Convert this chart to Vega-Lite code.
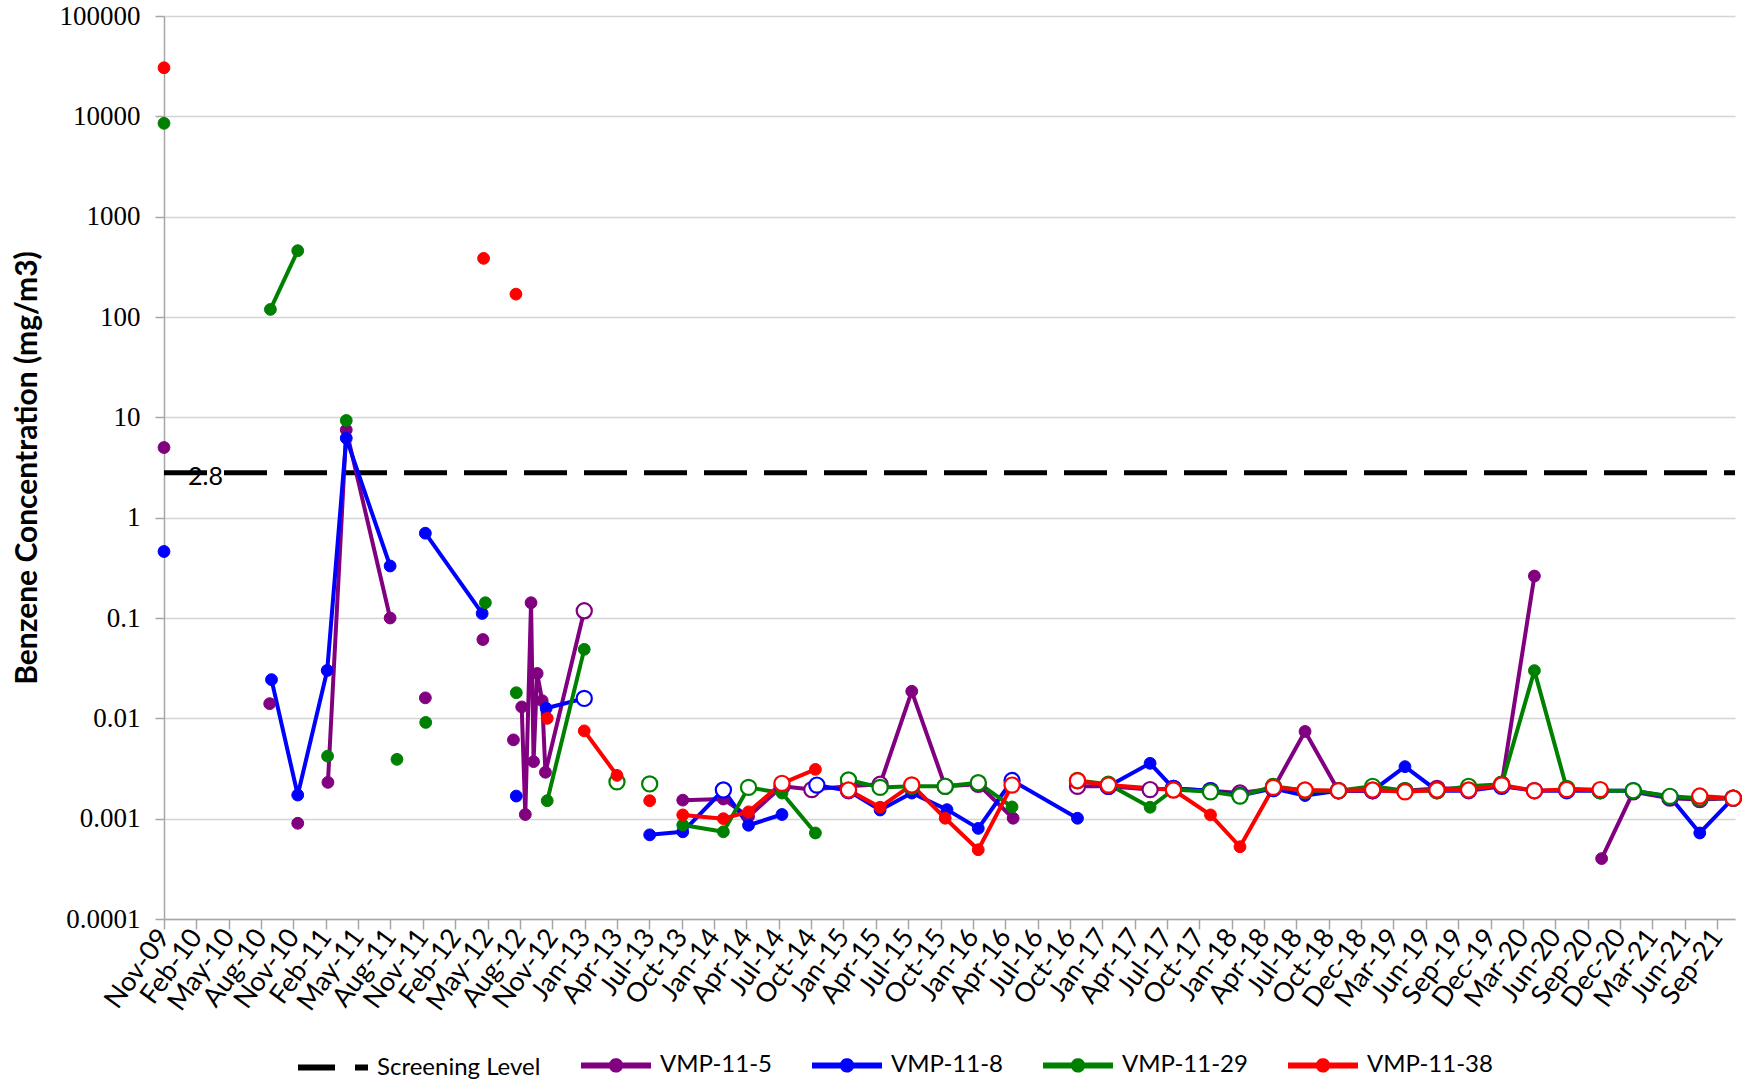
{
  "$schema": "https://vega.github.io/schema/vega-lite/v6.json",
  "width": 1571,
  "height": 903,
  "autosize": "none",
  "padding": {"left": 164, "top": 16, "right": 19, "bottom": 163},
  "background": "white",
  "config": {"view": {"stroke": null}},
  "datasets": {
    "sl": [
      {"series": "Screening Level", "date": "2009-11-17", "value": 2.8},
      {"series": "Screening Level", "date": "2021-11-04", "value": 2.8}
    ],
    "sllabel": [{"date": "2009-11-17", "value": 2.8, "label": "2.8"}],
    "obs": [
      {"series": "VMP-11-5", "seg": "pa", "date": "2009-11-17", "value": 5.0, "nd": false},
      {"series": "VMP-11-5", "seg": "pb", "date": "2010-09-07", "value": 0.014, "nd": false},
      {"series": "VMP-11-5", "seg": "pc", "date": "2010-11-24", "value": 0.0009, "nd": false},
      {"series": "VMP-11-5", "seg": "pd", "date": "2011-02-16", "value": 0.0023, "nd": false},
      {"series": "VMP-11-5", "seg": "pd", "date": "2011-04-08", "value": 7.5, "nd": false},
      {"series": "VMP-11-5", "seg": "pd", "date": "2011-08-08", "value": 0.10, "nd": false},
      {"series": "VMP-11-5", "seg": "pe", "date": "2011-11-14", "value": 0.016, "nd": false},
      {"series": "VMP-11-5", "seg": "pf", "date": "2012-04-22", "value": 0.061, "nd": false},
      {"series": "VMP-11-5", "seg": "pg", "date": "2012-07-16", "value": 0.0061, "nd": false},
      {"series": "VMP-11-5", "seg": "ph", "date": "2012-08-08", "value": 0.013, "nd": false},
      {"series": "VMP-11-5", "seg": "ph", "date": "2012-08-18", "value": 0.0011, "nd": false},
      {"series": "VMP-11-5", "seg": "ph", "date": "2012-09-03", "value": 0.142, "nd": false},
      {"series": "VMP-11-5", "seg": "ph", "date": "2012-09-10", "value": 0.0037, "nd": false},
      {"series": "VMP-11-5", "seg": "ph", "date": "2012-09-20", "value": 0.028, "nd": false},
      {"series": "VMP-11-5", "seg": "ph", "date": "2012-10-04", "value": 0.015, "nd": false},
      {"series": "VMP-11-5", "seg": "ph", "date": "2012-10-13", "value": 0.0029, "nd": false},
      {"series": "VMP-11-5", "seg": "ph", "date": "2013-01-29", "value": 0.118, "nd": true},
      {"series": "VMP-11-5", "seg": "pi", "date": "2013-10-30", "value": 0.00153, "nd": false},
      {"series": "VMP-11-5", "seg": "pi", "date": "2014-02-20", "value": 0.00157, "nd": false},
      {"series": "VMP-11-5", "seg": "pi", "date": "2014-05-01", "value": 0.00105, "nd": false},
      {"series": "VMP-11-5", "seg": "pi", "date": "2014-08-02", "value": 0.0021, "nd": true},
      {"series": "VMP-11-5", "seg": "pi", "date": "2014-10-24", "value": 0.00195, "nd": true},
      {"series": "VMP-11-5", "seg": "pi", "date": "2015-02-03", "value": 0.0021, "nd": true},
      {"series": "VMP-11-5", "seg": "pi", "date": "2015-05-02", "value": 0.0022, "nd": true},
      {"series": "VMP-11-5", "seg": "pi", "date": "2015-07-29", "value": 0.0186, "nd": false},
      {"series": "VMP-11-5", "seg": "pi", "date": "2015-10-30", "value": 0.0021, "nd": true},
      {"series": "VMP-11-5", "seg": "pi", "date": "2016-01-30", "value": 0.0022, "nd": true},
      {"series": "VMP-11-5", "seg": "pi", "date": "2016-05-06", "value": 0.00101, "nd": false},
      {"series": "VMP-11-5", "seg": "pj", "date": "2016-11-01", "value": 0.0021, "nd": true},
      {"series": "VMP-11-5", "seg": "pj", "date": "2017-01-26", "value": 0.0021, "nd": true},
      {"series": "VMP-11-5", "seg": "pj", "date": "2017-05-22", "value": 0.00195, "nd": true},
      {"series": "VMP-11-5", "seg": "pj", "date": "2017-07-26", "value": 0.002, "nd": true},
      {"series": "VMP-11-5", "seg": "pj", "date": "2017-11-06", "value": 0.0019, "nd": true},
      {"series": "VMP-11-5", "seg": "pj", "date": "2018-01-27", "value": 0.0018, "nd": true},
      {"series": "VMP-11-5", "seg": "pj", "date": "2018-04-30", "value": 0.002, "nd": true},
      {"series": "VMP-11-5", "seg": "pj", "date": "2018-07-27", "value": 0.0074, "nd": false},
      {"series": "VMP-11-5", "seg": "pj", "date": "2018-10-28", "value": 0.0019, "nd": true},
      {"series": "VMP-11-5", "seg": "pj", "date": "2019-01-31", "value": 0.0019, "nd": true},
      {"series": "VMP-11-5", "seg": "pj", "date": "2019-05-01", "value": 0.0019, "nd": true},
      {"series": "VMP-11-5", "seg": "pj", "date": "2019-07-29", "value": 0.002, "nd": true},
      {"series": "VMP-11-5", "seg": "pj", "date": "2019-10-25", "value": 0.002, "nd": true},
      {"series": "VMP-11-5", "seg": "pj", "date": "2020-01-25", "value": 0.0022, "nd": true},
      {"series": "VMP-11-5", "seg": "pj", "date": "2020-04-25", "value": 0.262, "nd": false},
      {"series": "VMP-11-5", "seg": "pk", "date": "2020-10-29", "value": 0.0004, "nd": false},
      {"series": "VMP-11-5", "seg": "pk", "date": "2021-01-25", "value": 0.00185, "nd": true},
      {"series": "VMP-11-5", "seg": "pk", "date": "2021-05-07", "value": 0.0016, "nd": true},
      {"series": "VMP-11-5", "seg": "pk", "date": "2021-07-29", "value": 0.00155, "nd": true},
      {"series": "VMP-11-5", "seg": "pk", "date": "2021-10-30", "value": 0.0016, "nd": true},

      {"series": "VMP-11-8", "seg": "ba", "date": "2009-11-17", "value": 0.46, "nd": false},
      {"series": "VMP-11-8", "seg": "bb", "date": "2010-09-12", "value": 0.0243, "nd": false},
      {"series": "VMP-11-8", "seg": "bb", "date": "2010-11-24", "value": 0.00172, "nd": false},
      {"series": "VMP-11-8", "seg": "bb", "date": "2011-02-14", "value": 0.030, "nd": false},
      {"series": "VMP-11-8", "seg": "bb", "date": "2011-04-08", "value": 6.2, "nd": false},
      {"series": "VMP-11-8", "seg": "bb", "date": "2011-08-08", "value": 0.33, "nd": false},
      {"series": "VMP-11-8", "seg": "bc", "date": "2011-11-14", "value": 0.70, "nd": false},
      {"series": "VMP-11-8", "seg": "bc", "date": "2012-04-20", "value": 0.111, "nd": false},
      {"series": "VMP-11-8", "seg": "bd", "date": "2012-07-24", "value": 0.00168, "nd": false},
      {"series": "VMP-11-8", "seg": "be", "date": "2012-10-15", "value": 0.0126, "nd": false},
      {"series": "VMP-11-8", "seg": "be", "date": "2013-01-29", "value": 0.0158, "nd": true},
      {"series": "VMP-11-8", "seg": "bf", "date": "2013-07-30", "value": 0.00069, "nd": false},
      {"series": "VMP-11-8", "seg": "bf", "date": "2013-10-30", "value": 0.00074, "nd": false},
      {"series": "VMP-11-8", "seg": "bf", "date": "2014-02-20", "value": 0.00193, "nd": true},
      {"series": "VMP-11-8", "seg": "bf", "date": "2014-05-01", "value": 0.00086, "nd": false},
      {"series": "VMP-11-8", "seg": "bf", "date": "2014-08-02", "value": 0.0011, "nd": false},
      {"series": "VMP-11-8", "seg": "bg", "date": "2014-11-07", "value": 0.00216, "nd": true},
      {"series": "VMP-11-8", "seg": "bg", "date": "2015-02-03", "value": 0.0019, "nd": true},
      {"series": "VMP-11-8", "seg": "bg", "date": "2015-05-02", "value": 0.00122, "nd": false},
      {"series": "VMP-11-8", "seg": "bg", "date": "2015-07-29", "value": 0.0018, "nd": false},
      {"series": "VMP-11-8", "seg": "bg", "date": "2015-11-04", "value": 0.00123, "nd": false},
      {"series": "VMP-11-8", "seg": "bg", "date": "2016-01-30", "value": 0.0008, "nd": false},
      {"series": "VMP-11-8", "seg": "bg", "date": "2016-05-03", "value": 0.0024, "nd": true},
      {"series": "VMP-11-8", "seg": "bg", "date": "2016-11-01", "value": 0.00101, "nd": false},
      {"series": "VMP-11-8", "seg": "bh", "date": "2017-01-26", "value": 0.0021, "nd": true},
      {"series": "VMP-11-8", "seg": "bh", "date": "2017-05-22", "value": 0.00356, "nd": false},
      {"series": "VMP-11-8", "seg": "bh", "date": "2017-07-26", "value": 0.002, "nd": true},
      {"series": "VMP-11-8", "seg": "bh", "date": "2017-11-06", "value": 0.0019, "nd": true},
      {"series": "VMP-11-8", "seg": "bh", "date": "2018-01-27", "value": 0.0017, "nd": true},
      {"series": "VMP-11-8", "seg": "bh", "date": "2018-04-30", "value": 0.002, "nd": true},
      {"series": "VMP-11-8", "seg": "bh", "date": "2018-07-27", "value": 0.0017, "nd": false},
      {"series": "VMP-11-8", "seg": "bh", "date": "2018-10-28", "value": 0.0019, "nd": true},
      {"series": "VMP-11-8", "seg": "bh", "date": "2019-01-31", "value": 0.0019, "nd": true},
      {"series": "VMP-11-8", "seg": "bh", "date": "2019-05-01", "value": 0.0033, "nd": false},
      {"series": "VMP-11-8", "seg": "bh", "date": "2019-07-29", "value": 0.0019, "nd": true},
      {"series": "VMP-11-8", "seg": "bh", "date": "2019-10-25", "value": 0.0019, "nd": true},
      {"series": "VMP-11-8", "seg": "bh", "date": "2020-01-25", "value": 0.0021, "nd": true},
      {"series": "VMP-11-8", "seg": "bh", "date": "2020-04-25", "value": 0.0019, "nd": true},
      {"series": "VMP-11-8", "seg": "bh", "date": "2020-07-24", "value": 0.0019, "nd": true},
      {"series": "VMP-11-8", "seg": "bh", "date": "2020-10-25", "value": 0.0019, "nd": true},
      {"series": "VMP-11-8", "seg": "bh", "date": "2021-01-25", "value": 0.0019, "nd": true},
      {"series": "VMP-11-8", "seg": "bh", "date": "2021-05-07", "value": 0.00165, "nd": true},
      {"series": "VMP-11-8", "seg": "bh", "date": "2021-07-29", "value": 0.00072, "nd": false},
      {"series": "VMP-11-8", "seg": "bh", "date": "2021-10-30", "value": 0.0016, "nd": true},

      {"series": "VMP-11-29", "seg": "ga", "date": "2009-11-17", "value": 8520, "nd": false},
      {"series": "VMP-11-29", "seg": "gb", "date": "2010-09-09", "value": 119, "nd": false},
      {"series": "VMP-11-29", "seg": "gb", "date": "2010-11-24", "value": 458, "nd": false},
      {"series": "VMP-11-29", "seg": "gc", "date": "2011-02-15", "value": 0.0042, "nd": false},
      {"series": "VMP-11-29", "seg": "gd", "date": "2011-04-08", "value": 9.3, "nd": false},
      {"series": "VMP-11-29", "seg": "ge", "date": "2011-08-27", "value": 0.0039, "nd": false},
      {"series": "VMP-11-29", "seg": "gf", "date": "2011-11-15", "value": 0.0091, "nd": false},
      {"series": "VMP-11-29", "seg": "gg", "date": "2012-04-29", "value": 0.142, "nd": false},
      {"series": "VMP-11-29", "seg": "gh", "date": "2012-07-24", "value": 0.018, "nd": false},
      {"series": "VMP-11-29", "seg": "gi", "date": "2012-10-18", "value": 0.00151, "nd": false},
      {"series": "VMP-11-29", "seg": "gi", "date": "2013-01-29", "value": 0.0487, "nd": false},
      {"series": "VMP-11-29", "seg": "gj", "date": "2013-04-30", "value": 0.00233, "nd": true},
      {"series": "VMP-11-29", "seg": "gk", "date": "2013-07-30", "value": 0.00222, "nd": true},
      {"series": "VMP-11-29", "seg": "gl", "date": "2013-10-30", "value": 0.000865, "nd": false},
      {"series": "VMP-11-29", "seg": "gl", "date": "2014-02-20", "value": 0.00074, "nd": false},
      {"series": "VMP-11-29", "seg": "gl", "date": "2014-05-01", "value": 0.00205, "nd": true},
      {"series": "VMP-11-29", "seg": "gl", "date": "2014-08-02", "value": 0.0018, "nd": false},
      {"series": "VMP-11-29", "seg": "gl", "date": "2014-11-03", "value": 0.00072, "nd": false},
      {"series": "VMP-11-29", "seg": "gm", "date": "2015-02-03", "value": 0.00243, "nd": true},
      {"series": "VMP-11-29", "seg": "gm", "date": "2015-05-02", "value": 0.00205, "nd": true},
      {"series": "VMP-11-29", "seg": "gm", "date": "2015-07-29", "value": 0.0021, "nd": true},
      {"series": "VMP-11-29", "seg": "gm", "date": "2015-10-30", "value": 0.0021, "nd": true},
      {"series": "VMP-11-29", "seg": "gm", "date": "2016-01-30", "value": 0.00228, "nd": true},
      {"series": "VMP-11-29", "seg": "gm", "date": "2016-05-03", "value": 0.00131, "nd": false},
      {"series": "VMP-11-29", "seg": "gn", "date": "2016-11-01", "value": 0.0024, "nd": true},
      {"series": "VMP-11-29", "seg": "gn", "date": "2017-01-26", "value": 0.0022, "nd": true},
      {"series": "VMP-11-29", "seg": "gn", "date": "2017-05-22", "value": 0.0013, "nd": false},
      {"series": "VMP-11-29", "seg": "gn", "date": "2017-07-26", "value": 0.00195, "nd": true},
      {"series": "VMP-11-29", "seg": "gn", "date": "2017-11-06", "value": 0.00185, "nd": true},
      {"series": "VMP-11-29", "seg": "gn", "date": "2018-01-27", "value": 0.00168, "nd": true},
      {"series": "VMP-11-29", "seg": "gn", "date": "2018-04-30", "value": 0.0021, "nd": true},
      {"series": "VMP-11-29", "seg": "gn", "date": "2018-07-27", "value": 0.0019, "nd": true},
      {"series": "VMP-11-29", "seg": "gn", "date": "2018-10-28", "value": 0.0019, "nd": true},
      {"series": "VMP-11-29", "seg": "gn", "date": "2019-01-31", "value": 0.0021, "nd": true},
      {"series": "VMP-11-29", "seg": "gn", "date": "2019-05-01", "value": 0.0019, "nd": true},
      {"series": "VMP-11-29", "seg": "gn", "date": "2019-07-29", "value": 0.0019, "nd": true},
      {"series": "VMP-11-29", "seg": "gn", "date": "2019-10-25", "value": 0.0021, "nd": true},
      {"series": "VMP-11-29", "seg": "gn", "date": "2020-01-25", "value": 0.0022, "nd": true},
      {"series": "VMP-11-29", "seg": "gn", "date": "2020-04-25", "value": 0.0299, "nd": false},
      {"series": "VMP-11-29", "seg": "gn", "date": "2020-07-24", "value": 0.002, "nd": true},
      {"series": "VMP-11-29", "seg": "gn", "date": "2020-10-25", "value": 0.0019, "nd": true},
      {"series": "VMP-11-29", "seg": "gn", "date": "2021-01-25", "value": 0.0019, "nd": true},
      {"series": "VMP-11-29", "seg": "gn", "date": "2021-05-07", "value": 0.00167, "nd": true},
      {"series": "VMP-11-29", "seg": "gn", "date": "2021-07-29", "value": 0.0016, "nd": true},
      {"series": "VMP-11-29", "seg": "gn", "date": "2021-10-30", "value": 0.0016, "nd": true},

      {"series": "VMP-11-38", "seg": "ra", "date": "2009-11-17", "value": 30500, "nd": false},
      {"series": "VMP-11-38", "seg": "rb", "date": "2012-04-24", "value": 384, "nd": false},
      {"series": "VMP-11-38", "seg": "rc", "date": "2012-07-23", "value": 169, "nd": false},
      {"series": "VMP-11-38", "seg": "rd", "date": "2012-10-18", "value": 0.0100, "nd": false},
      {"series": "VMP-11-38", "seg": "re", "date": "2013-01-29", "value": 0.0075, "nd": false},
      {"series": "VMP-11-38", "seg": "re", "date": "2013-04-30", "value": 0.0027, "nd": false},
      {"series": "VMP-11-38", "seg": "rf", "date": "2013-07-30", "value": 0.00151, "nd": false},
      {"series": "VMP-11-38", "seg": "rg", "date": "2013-10-30", "value": 0.00109, "nd": false},
      {"series": "VMP-11-38", "seg": "rg", "date": "2014-02-20", "value": 0.0010, "nd": false},
      {"series": "VMP-11-38", "seg": "rg", "date": "2014-05-01", "value": 0.00117, "nd": false},
      {"series": "VMP-11-38", "seg": "rg", "date": "2014-08-02", "value": 0.00225, "nd": true},
      {"series": "VMP-11-38", "seg": "rg", "date": "2014-11-03", "value": 0.0031, "nd": false},
      {"series": "VMP-11-38", "seg": "rh", "date": "2015-02-03", "value": 0.00193, "nd": true},
      {"series": "VMP-11-38", "seg": "rh", "date": "2015-05-02", "value": 0.0013, "nd": false},
      {"series": "VMP-11-38", "seg": "rh", "date": "2015-07-29", "value": 0.00217, "nd": true},
      {"series": "VMP-11-38", "seg": "rh", "date": "2015-10-30", "value": 0.00101, "nd": false},
      {"series": "VMP-11-38", "seg": "rh", "date": "2016-01-30", "value": 0.00049, "nd": false},
      {"series": "VMP-11-38", "seg": "rh", "date": "2016-05-03", "value": 0.00216, "nd": true},
      {"series": "VMP-11-38", "seg": "ri", "date": "2016-11-01", "value": 0.00239, "nd": true},
      {"series": "VMP-11-38", "seg": "ri", "date": "2017-01-26", "value": 0.00216, "nd": true},
      {"series": "VMP-11-38", "seg": "ri", "date": "2017-07-26", "value": 0.00193, "nd": true},
      {"series": "VMP-11-38", "seg": "ri", "date": "2017-11-06", "value": 0.00109, "nd": false},
      {"series": "VMP-11-38", "seg": "ri", "date": "2018-01-27", "value": 0.000525, "nd": false},
      {"series": "VMP-11-38", "seg": "ri", "date": "2018-04-30", "value": 0.00205, "nd": true},
      {"series": "VMP-11-38", "seg": "ri", "date": "2018-07-27", "value": 0.00193, "nd": true},
      {"series": "VMP-11-38", "seg": "ri", "date": "2018-10-28", "value": 0.0019, "nd": true},
      {"series": "VMP-11-38", "seg": "ri", "date": "2019-01-31", "value": 0.00193, "nd": true},
      {"series": "VMP-11-38", "seg": "ri", "date": "2019-05-01", "value": 0.00185, "nd": true},
      {"series": "VMP-11-38", "seg": "ri", "date": "2019-07-29", "value": 0.00193, "nd": true},
      {"series": "VMP-11-38", "seg": "ri", "date": "2019-10-25", "value": 0.00193, "nd": true},
      {"series": "VMP-11-38", "seg": "ri", "date": "2020-01-25", "value": 0.00217, "nd": true},
      {"series": "VMP-11-38", "seg": "ri", "date": "2020-04-25", "value": 0.0019, "nd": true},
      {"series": "VMP-11-38", "seg": "ri", "date": "2020-07-24", "value": 0.00195, "nd": true},
      {"series": "VMP-11-38", "seg": "ri", "date": "2020-10-25", "value": 0.00195, "nd": true},
      {"series": "VMP-11-38", "seg": "rj", "date": "2021-07-29", "value": 0.00168, "nd": true},
      {"series": "VMP-11-38", "seg": "rj", "date": "2021-10-30", "value": 0.0016, "nd": true}
    ]
  },
  "encoding": {
    "x": {
      "field": "date", "type": "temporal",
      "scale": {"type": "utc", "domain": [{"year": 2009, "month": 11, "date": 17, "utc": true}, {"year": 2021, "month": 11, "date": 4, "utc": true}]},
      "axis": {
        "title": null, "grid": false, "format": "%b-%y",
        "values": [
          {"year": 2009, "month": 11, "date": 17, "utc": true},
          {"year": 2010, "month": 2, "date": 15, "utc": true},
          {"year": 2010, "month": 5, "date": 16, "utc": true},
          {"year": 2010, "month": 8, "date": 14, "utc": true},
          {"year": 2010, "month": 11, "date": 12, "utc": true},
          {"year": 2011, "month": 2, "date": 10, "utc": true},
          {"year": 2011, "month": 5, "date": 11, "utc": true},
          {"year": 2011, "month": 8, "date": 9, "utc": true},
          {"year": 2011, "month": 11, "date": 7, "utc": true},
          {"year": 2012, "month": 2, "date": 5, "utc": true},
          {"year": 2012, "month": 5, "date": 5, "utc": true},
          {"year": 2012, "month": 8, "date": 3, "utc": true},
          {"year": 2012, "month": 11, "date": 1, "utc": true},
          {"year": 2013, "month": 1, "date": 30, "utc": true},
          {"year": 2013, "month": 4, "date": 30, "utc": true},
          {"year": 2013, "month": 7, "date": 29, "utc": true},
          {"year": 2013, "month": 10, "date": 27, "utc": true},
          {"year": 2014, "month": 1, "date": 25, "utc": true},
          {"year": 2014, "month": 4, "date": 25, "utc": true},
          {"year": 2014, "month": 7, "date": 24, "utc": true},
          {"year": 2014, "month": 10, "date": 22, "utc": true},
          {"year": 2015, "month": 1, "date": 20, "utc": true},
          {"year": 2015, "month": 4, "date": 20, "utc": true},
          {"year": 2015, "month": 7, "date": 19, "utc": true},
          {"year": 2015, "month": 10, "date": 17, "utc": true},
          {"year": 2016, "month": 1, "date": 15, "utc": true},
          {"year": 2016, "month": 4, "date": 14, "utc": true},
          {"year": 2016, "month": 7, "date": 13, "utc": true},
          {"year": 2016, "month": 10, "date": 11, "utc": true},
          {"year": 2017, "month": 1, "date": 9, "utc": true},
          {"year": 2017, "month": 4, "date": 9, "utc": true},
          {"year": 2017, "month": 7, "date": 8, "utc": true},
          {"year": 2017, "month": 10, "date": 6, "utc": true},
          {"year": 2018, "month": 1, "date": 4, "utc": true},
          {"year": 2018, "month": 4, "date": 4, "utc": true},
          {"year": 2018, "month": 7, "date": 3, "utc": true},
          {"year": 2018, "month": 10, "date": 1, "utc": true},
          {"year": 2018, "month": 12, "date": 30, "utc": true},
          {"year": 2019, "month": 3, "date": 30, "utc": true},
          {"year": 2019, "month": 6, "date": 28, "utc": true},
          {"year": 2019, "month": 9, "date": 26, "utc": true},
          {"year": 2019, "month": 12, "date": 25, "utc": true},
          {"year": 2020, "month": 3, "date": 24, "utc": true},
          {"year": 2020, "month": 6, "date": 22, "utc": true},
          {"year": 2020, "month": 9, "date": 20, "utc": true},
          {"year": 2020, "month": 12, "date": 19, "utc": true},
          {"year": 2021, "month": 3, "date": 19, "utc": true},
          {"year": 2021, "month": 6, "date": 17, "utc": true},
          {"year": 2021, "month": 9, "date": 15, "utc": true}
        ],
        "labelAngle": -54, "labelAlign": "right", "labelBaseline": "middle",
        "labelFont": "Lato", "labelFontSize": 27, "labelColor": "#000000",
        "labelPadding": 3, "labelOverlap": false, "labelFlush": false, "labelBound": false,
        "tickSize": 10, "tickColor": "#a6a6a6", "tickWidth": 1.5,
        "domainColor": "#a6a6a6", "domainWidth": 1.5
      }
    },
    "y": {
      "field": "value", "type": "quantitative",
      "scale": {"type": "log", "domain": [0.0001, 100000], "nice": false},
      "axis": {
        "values": [0.0001, 0.001, 0.01, 0.1, 1, 10, 100, 1000, 10000, 100000],
        "format": "~g",
        "labelFont": "Liberation Serif", "labelFontSize": 27, "labelColor": "#000000", "labelPadding": 15,
        "tickSize": 9, "tickColor": "#a6a6a6", "tickWidth": 1.5,
        "domainColor": "#a6a6a6", "domainWidth": 1.5,
        "grid": true, "gridColor": "#d4d4d4", "gridWidth": 1.5,
        "title": "Benzene Concentration (mg/m3)",
        "titleFont": "Lato", "titleFontSize": 30, "titleFontWeight": "bold", "titleColor": "#000000",
        "titleX": -137, "titleY": 451.5, "titleAngle": -90, "titleAlign": "center", "titleBaseline": "middle"
      }
    }
  },
  "layer": [
    {
      "data": {"name": "sl"},
      "mark": {"type": "line", "strokeWidth": 5, "strokeDash": [43, 17], "strokeCap": "butt"},
      "encoding": {
        "stroke": {
          "field": "series", "type": "nominal",
          "scale": {"domain": ["Screening Level", "VMP-11-5", "VMP-11-8", "VMP-11-29", "VMP-11-38"], "range": ["#000000", "#800080", "#0000ff", "#008000", "#ff0000"]},
          "legend": {
            "orient": "none", "legendX": 131, "legendY": 1011, "direction": "horizontal", "title": null,
            "padding": 0, "columnPadding": 28, "labelOffset": 6,
            "labelFont": "Lato", "labelFontSize": 24, "labelColor": "#000000", "labelLimit": 400,
            "symbolSize": 4900, "symbolStrokeWidth": 6, "symbolType": "M-1,0H1",
            "encode": {
              "symbols": {
                "update": {
                  "shape": {"signal": "datum.value === 'Screening Level' ? 'M-1,0H1' : 'M-1,0H1M0.12,0A0.12,0.12,0,1,1,-0.12,0A0.12,0.12,0,1,1,0.12,0Z'"},
                  "strokeDash": {"signal": "datum.value === 'Screening Level' ? [37, 20] : [1, 0]"},
                  "fill": {"signal": "datum.value === 'Screening Level' ? 'transparent' : scale('stroke', datum.value)"},
                  "fillOpacity": {"value": 1},
                  "strokeCap": {"value": "butt"}
                }
              }
            }
          }
        }
      }
    },
    {
      "data": {"name": "sllabel"},
      "mark": {"type": "text", "align": "left", "baseline": "middle", "dx": 24, "dy": 4, "font": "Lato", "fontSize": 25, "color": "#000000"},
      "encoding": {"text": {"field": "label"}}
    },
    {
      "data": {"name": "obs"},
      "mark": {"type": "line", "strokeWidth": 4, "strokeJoin": "round"},
      "encoding": {
        "stroke": {
          "field": "series", "type": "nominal",
          "scale": {"domain": ["Screening Level", "VMP-11-5", "VMP-11-8", "VMP-11-29", "VMP-11-38"], "range": ["#000000", "#800080", "#0000ff", "#008000", "#ff0000"]},
          "legend": null
        },
        "detail": {"field": "seg"}
      }
    },
    {
      "data": {"name": "obs"},
      "mark": {"type": "point", "shape": "circle", "filled": true, "opacity": 1},
      "encoding": {
        "stroke": {
          "field": "series", "type": "nominal",
          "scale": {"domain": ["Screening Level", "VMP-11-5", "VMP-11-8", "VMP-11-29", "VMP-11-38"], "range": ["#000000", "#800080", "#0000ff", "#008000", "#ff0000"]},
          "legend": null
        },
        "fill": {
          "condition": {"test": "datum.nd", "value": "#ffffff"},
          "field": "series", "type": "nominal",
          "scale": {"domain": ["VMP-11-5", "VMP-11-8", "VMP-11-29", "VMP-11-38"], "range": ["#800080", "#0000ff", "#008000", "#ff0000"]},
          "legend": null
        },
        "size": {"condition": {"test": "datum.nd", "value": 230}, "value": 140},
        "strokeWidth": {"condition": {"test": "datum.nd", "value": 2.2}, "value": 1}
      }
    }
  ]
}
